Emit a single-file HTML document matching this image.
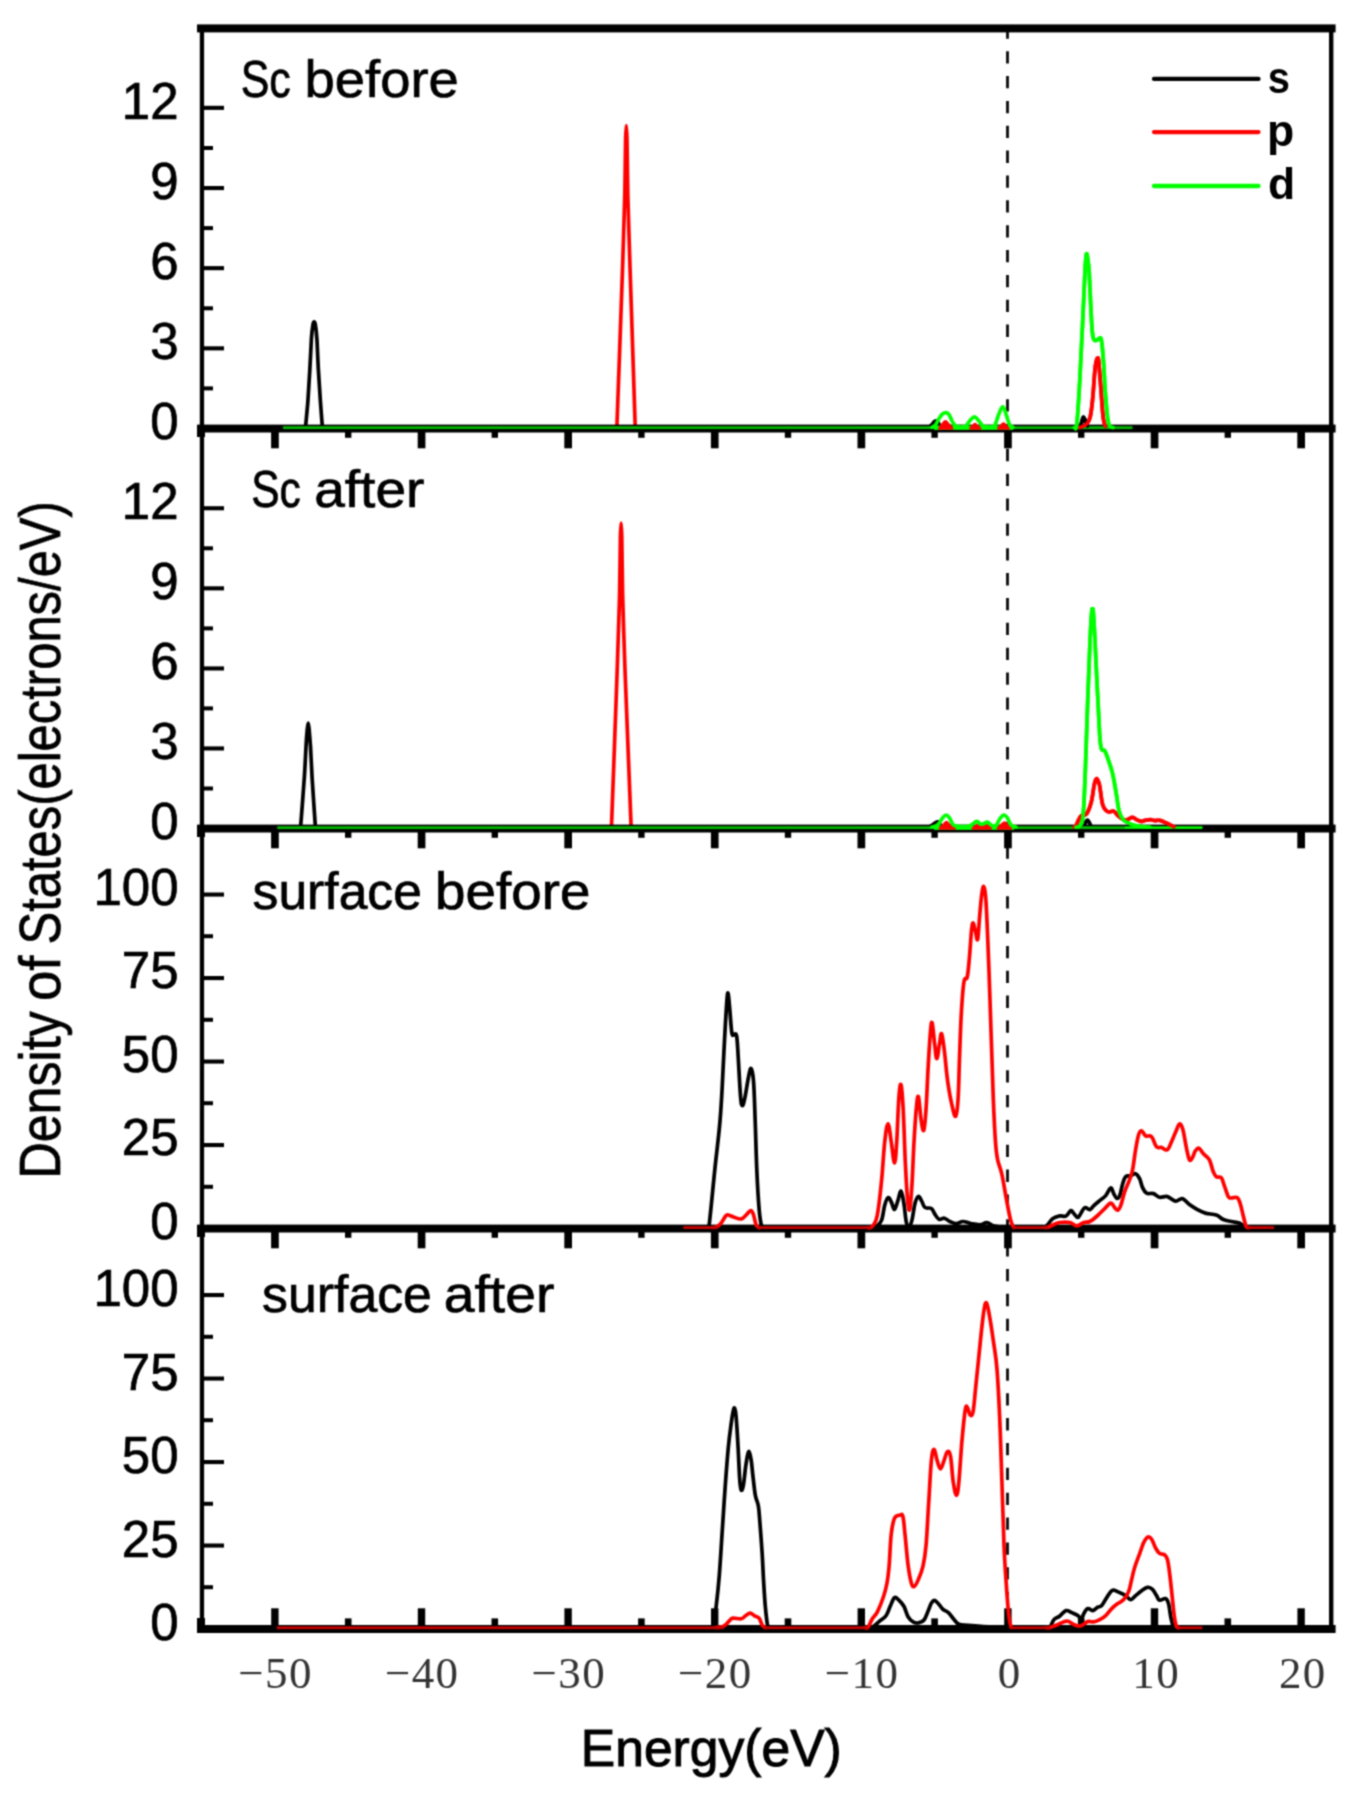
<!DOCTYPE html>
<html lang="en">
<head>
<meta charset="utf-8">
<title>Density of States</title>
<style>
html,body{margin:0;padding:0;background:#fff;}
body{width:1355px;height:1797px;position:relative;overflow:hidden;font-family:"Liberation Sans",sans-serif;}
</style>
</head>
<body>
<svg width="1355" height="1797" viewBox="0 0 1355 1797" style="display:block;position:absolute;left:0;top:0;">
<defs><filter id="soft" color-interpolation-filters="sRGB" x="0" y="0" width="1355" height="1797" filterUnits="userSpaceOnUse"><feConvolveMatrix order="3" kernelMatrix="0.0484 0.1232 0.0484 0.1232 0.3136 0.1232 0.0484 0.1232 0.0484" divisor="1" edgeMode="duplicate" preserveAlpha="true"/></filter></defs>
<rect x="0" y="0" width="1355" height="1797" fill="#fff"/>
<g filter="url(#soft)">
<rect x="0" y="0" width="1355" height="1797" fill="#fff"/>
<line x1="1007.5" y1="26.35" x2="1007.5" y2="1626" stroke="#111" stroke-width="2.9" stroke-dasharray="12.3 12.553"/>
<path d="M305.6 426.5C305.8 424.0 307.5 406.8 307.9 401.2C308.3 395.6 309.4 376.3 309.8 370.1C310.2 363.9 311.1 343.5 311.4 338.9C311.7 334.3 312.7 326.1 313.0 324.4C313.3 322.7 313.9 321.8 314.1 321.8C314.3 321.8 315.0 322.7 315.3 324.4C315.6 326.1 316.6 334.3 316.9 338.9C317.2 343.5 318.0 363.9 318.4 370.1C318.8 376.3 320.0 395.6 320.4 401.2C320.8 406.8 322.1 424.0 322.3 426.5" fill="none" stroke="#000" stroke-width="3.7" stroke-linejoin="round" stroke-linecap="round"/>
<path d="M929.5 427.0C930.0 426.5 931.1 425.5 932.0 424.5C932.9 423.5 933.6 422.1 934.5 421.5C935.4 420.9 936.2 420.5 937.0 421.0C937.8 421.5 938.6 423.4 939.0 424.0" fill="none" stroke="#000" stroke-width="3.7" stroke-linejoin="round" stroke-linecap="round"/>
<path d="M1080.5 427.0C1080.8 425.7 1081.8 421.8 1082.3 420.0C1082.8 418.2 1083.0 417.0 1083.5 417.0C1084.0 417.0 1084.3 418.4 1085.0 420.0C1085.7 421.6 1087.0 424.9 1087.5 426.0" fill="none" stroke="#000" stroke-width="3.7" stroke-linejoin="round" stroke-linecap="round"/>
<path d="M616.9 426.5C617.3 416.1 622.0 285.5 622.5 270.0C623.0 254.5 624.6 203.2 624.8 194.5C625.0 185.8 625.5 144.6 625.6 140.0C625.7 135.4 626.2 125.6 626.3 125.6C626.4 125.6 626.9 135.4 627.0 140.0C627.1 144.6 627.6 185.8 627.8 194.5C628.0 203.2 629.6 254.5 630.1 270.0C630.6 285.5 634.9 416.1 635.2 426.5" fill="none" stroke="#ff0000" stroke-width="3.7" stroke-linejoin="round" stroke-linecap="round"/>
<path d="M1079.7 427.6C1081.0 426.9 1084.8 425.9 1086.7 424.0C1088.6 422.1 1089.1 421.5 1090.2 417.0C1091.3 412.5 1091.7 408.0 1092.6 399.4C1093.5 390.8 1094.2 377.3 1094.9 370.2C1095.6 363.1 1095.9 362.9 1096.4 360.7C1096.9 358.5 1097.1 358.3 1097.5 358.4C1097.9 358.5 1098.1 356.1 1098.7 361.5C1099.3 366.9 1100.0 377.5 1100.8 387.7C1101.6 397.9 1102.3 409.9 1103.1 417.0C1103.9 424.1 1105.0 424.8 1105.4 426.5" fill="none" stroke="#ff0000" stroke-width="3.7" stroke-linejoin="round" stroke-linecap="round"/>
<path d="M1074.5 427.5C1074.9 426.9 1075.8 432.7 1076.8 424.3C1077.8 415.9 1078.6 400.4 1079.7 381.9C1080.8 363.4 1081.6 343.9 1082.6 323.5C1083.6 303.1 1084.4 283.1 1085.0 270.9C1085.6 258.7 1085.7 260.2 1086.0 257.0C1086.3 253.8 1086.4 253.6 1086.7 253.6C1087.0 253.6 1087.1 253.8 1087.5 257.0C1087.9 260.2 1088.5 261.9 1089.1 270.9C1089.7 279.9 1090.2 294.8 1090.8 306.0C1091.4 317.2 1091.7 325.6 1092.3 331.8C1092.9 338.0 1093.1 338.3 1094.0 339.8C1094.9 341.3 1096.3 340.3 1097.3 340.0C1098.3 339.7 1098.8 337.9 1099.6 338.1C1100.4 338.3 1100.8 336.4 1101.6 341.2C1102.4 346.0 1103.0 354.8 1103.7 364.4C1104.4 374.0 1104.6 383.5 1105.4 393.6C1106.2 403.7 1106.9 413.3 1107.8 419.3C1108.7 425.3 1109.1 425.0 1110.1 426.5C1111.1 428.0 1112.5 427.3 1113.0 427.5" fill="none" stroke="#00ff00" stroke-width="3.7" stroke-linejoin="round" stroke-linecap="round"/>
<path d="M300.6 827.0C300.9 822.9 303.9 784.6 304.3 777.9C304.8 771.2 305.8 750.8 306.0 746.7C306.2 742.6 307.1 731.0 307.3 729.0C307.5 727.0 308.1 723.2 308.2 723.2C308.3 723.2 308.9 727.0 309.1 729.0C309.3 731.0 310.2 742.6 310.5 746.7C310.8 750.8 311.7 771.2 312.1 777.9C312.5 784.6 315.1 822.9 315.4 827.0" fill="none" stroke="#000" stroke-width="3.7" stroke-linejoin="round" stroke-linecap="round"/>
<path d="M929.5 827.0C930.0 826.7 931.0 826.0 932.0 825.3C933.0 824.6 933.9 823.6 935.0 823.0C936.1 822.4 937.1 821.6 938.0 821.8C938.9 822.0 939.6 823.6 940.0 824.0" fill="none" stroke="#000" stroke-width="3.7" stroke-linejoin="round" stroke-linecap="round"/>
<path d="M1084.0 827.0C1084.4 826.0 1085.4 822.8 1086.0 821.5C1086.6 820.2 1087.0 819.9 1087.5 820.0C1088.0 820.1 1088.3 820.7 1089.0 822.0C1089.7 823.3 1091.0 826.1 1091.5 827.0" fill="none" stroke="#000" stroke-width="3.7" stroke-linejoin="round" stroke-linecap="round"/>
<path d="M611.5 826.5C611.9 816.1 616.7 685.5 617.2 670.0C617.7 654.5 619.4 602.9 619.6 594.0C619.8 585.1 620.3 541.7 620.4 537.0C620.5 532.3 621.0 523.0 621.1 523.0C621.2 523.0 621.7 532.3 621.8 537.0C621.9 541.7 622.4 585.1 622.6 594.0C622.8 602.9 624.4 654.5 625.0 670.0C625.6 685.5 630.7 816.1 631.1 826.5" fill="none" stroke="#ff0000" stroke-width="3.7" stroke-linejoin="round" stroke-linecap="round"/>
<path d="M1074.0 827.0C1074.4 826.7 1074.8 827.6 1076.0 825.6C1077.2 823.6 1078.8 818.4 1080.7 816.2C1082.6 814.0 1084.7 816.4 1086.6 813.8C1088.5 811.2 1089.9 807.2 1091.3 802.0C1092.7 796.8 1093.3 789.5 1094.1 785.5C1094.9 781.5 1095.1 781.3 1095.6 780.0C1096.1 778.7 1096.3 778.5 1096.7 778.6C1097.1 778.7 1097.4 779.1 1097.9 780.4C1098.4 781.7 1098.7 781.1 1099.6 785.5C1100.5 789.9 1101.3 799.7 1102.6 804.4C1103.9 809.1 1105.3 809.6 1106.7 811.0C1108.1 812.4 1108.7 811.8 1110.0 811.8C1111.3 811.8 1112.1 810.4 1113.7 811.2C1115.3 812.0 1116.9 814.8 1118.5 816.2C1120.1 817.6 1121.1 818.4 1122.6 819.0C1124.1 819.6 1124.9 820.0 1126.7 819.7C1128.5 819.4 1130.8 817.4 1132.6 817.4C1134.4 817.4 1135.0 818.9 1136.5 819.6C1138.0 820.3 1139.3 821.3 1140.9 821.4C1142.5 821.5 1143.3 820.7 1145.0 820.4C1146.7 820.1 1148.6 819.7 1150.4 819.7C1152.2 819.7 1153.3 820.5 1155.0 820.6C1156.7 820.7 1157.6 819.9 1159.8 820.4C1162.0 820.9 1164.3 822.1 1166.9 823.3C1169.5 824.5 1172.7 826.2 1174.0 826.8" fill="none" stroke="#ff0000" stroke-width="3.7" stroke-linejoin="round" stroke-linecap="round"/>
<path d="M1076.0 827.2C1076.6 827.0 1078.2 828.0 1079.5 826.0C1080.8 824.0 1081.9 826.7 1083.0 816.2C1084.1 805.8 1084.5 790.7 1085.4 769.0C1086.3 747.3 1086.9 721.9 1087.8 698.1C1088.7 674.3 1089.4 654.6 1090.1 639.0C1090.8 623.4 1091.2 618.5 1091.6 613.0C1092.0 607.5 1092.2 609.0 1092.5 609.0C1092.8 609.0 1093.0 607.5 1093.4 613.0C1093.8 618.5 1094.2 625.6 1094.9 639.0C1095.6 652.4 1096.3 669.0 1097.2 686.3C1098.1 703.6 1098.9 722.2 1099.6 733.5C1100.3 744.8 1100.6 744.8 1101.2 747.9C1101.8 751.0 1102.3 749.6 1103.0 750.2C1103.7 750.8 1103.9 749.1 1105.0 751.2C1106.1 753.3 1107.6 757.8 1109.0 761.9C1110.4 766.0 1111.3 768.1 1112.6 773.7C1113.9 779.3 1114.9 785.7 1116.1 792.6C1117.3 799.5 1117.9 806.5 1119.2 811.5C1120.5 816.5 1120.9 817.3 1123.2 819.7C1125.5 822.1 1128.3 823.1 1131.5 824.4C1134.7 825.7 1137.5 826.1 1140.9 826.6C1144.3 827.1 1148.3 827.1 1150.0 827.2" fill="none" stroke="#00ff00" stroke-width="3.7" stroke-linejoin="round" stroke-linecap="round"/>
<path d="M707.5 1227.0C707.8 1226.5 707.9 1235.0 709.2 1224.5C710.5 1214.0 712.9 1188.0 714.8 1169.7C716.7 1151.4 718.4 1139.3 719.7 1124.5C721.0 1109.7 721.2 1104.4 722.1 1089.0C723.0 1073.6 723.6 1056.9 724.5 1040.6C725.4 1024.3 726.2 1008.9 726.9 1000.3C727.6 991.7 727.7 992.3 728.2 993.8C728.7 995.3 729.0 1001.3 729.7 1008.4C730.4 1015.5 731.0 1027.8 731.8 1032.6C732.6 1037.4 733.1 1034.2 734.0 1034.8C734.9 1035.4 735.8 1031.8 736.6 1035.8C737.4 1039.8 737.5 1045.6 738.2 1056.8C738.9 1068.0 739.8 1088.2 740.6 1097.1C741.4 1106.0 741.5 1105.2 742.3 1105.5C743.1 1105.8 743.5 1104.1 744.7 1098.7C745.9 1093.3 747.5 1081.6 748.7 1076.1C749.9 1070.6 750.2 1067.7 751.1 1068.6C752.0 1069.5 752.7 1071.3 753.5 1081.0C754.3 1090.7 754.6 1105.0 755.2 1121.3C755.8 1137.6 756.1 1153.4 756.8 1169.7C757.5 1186.0 758.3 1199.7 759.2 1210.0C760.1 1220.3 760.7 1222.9 761.6 1226.1C762.5 1229.3 763.6 1227.1 764.0 1227.3" fill="none" stroke="#000" stroke-width="3.7" stroke-linejoin="round" stroke-linecap="round"/>
<path d="M873.0 1227.3C873.5 1227.2 874.4 1228.2 876.0 1226.9C877.6 1225.6 879.9 1224.4 881.5 1220.4C883.1 1216.4 883.5 1209.4 884.7 1205.2C885.9 1201.0 886.8 1198.2 888.0 1197.6C889.2 1197.0 890.1 1199.8 891.3 1202.0C892.5 1204.2 893.3 1209.7 894.5 1209.5C895.7 1209.3 896.6 1204.3 897.8 1200.9C899.0 1197.5 899.9 1190.7 901.0 1191.1C902.1 1191.5 902.8 1197.2 903.8 1203.0C904.8 1208.8 905.4 1218.2 906.4 1222.6C907.4 1227.0 908.0 1227.3 909.0 1226.9C910.0 1226.5 910.8 1224.8 911.9 1220.4C913.0 1216.0 913.9 1207.4 915.1 1203.0C916.3 1198.6 917.2 1196.9 918.4 1196.5C919.6 1196.1 920.4 1198.9 921.6 1200.9C922.8 1202.9 923.1 1206.0 924.9 1207.4C926.7 1208.8 929.6 1207.3 931.4 1208.5C933.2 1209.7 933.3 1211.9 934.7 1213.9C936.1 1215.9 937.2 1218.5 939.0 1219.3C940.8 1220.1 942.4 1217.8 944.4 1218.2C946.4 1218.6 947.7 1220.5 949.9 1221.5C952.1 1222.5 954.0 1223.7 956.4 1223.7C958.8 1223.7 960.1 1221.5 962.9 1221.5C965.7 1221.5 968.4 1223.1 971.6 1223.7C974.8 1224.3 977.5 1224.9 980.3 1224.7C983.1 1224.5 984.4 1222.4 986.8 1222.6C989.2 1222.8 990.5 1224.9 993.3 1225.8C996.1 1226.7 1000.4 1227.1 1002.0 1227.4" fill="none" stroke="#000" stroke-width="3.7" stroke-linejoin="round" stroke-linecap="round"/>
<path d="M1045.0 1227.3C1045.5 1226.8 1046.5 1226.1 1047.9 1224.5C1049.3 1222.9 1050.7 1220.1 1052.9 1218.5C1055.1 1216.9 1057.5 1216.3 1059.9 1215.9C1062.3 1215.5 1063.9 1217.1 1065.9 1216.1C1067.9 1215.1 1069.4 1211.1 1070.8 1210.6C1072.2 1210.1 1072.5 1212.2 1073.8 1213.5C1075.1 1214.8 1076.5 1217.5 1077.8 1217.5C1079.1 1217.5 1079.5 1215.3 1080.8 1213.5C1082.1 1211.7 1083.1 1208.3 1084.8 1207.6C1086.5 1206.9 1088.1 1210.0 1089.8 1209.6C1091.5 1209.2 1092.0 1207.2 1093.8 1205.6C1095.6 1203.9 1097.5 1202.4 1099.7 1200.6C1101.9 1198.8 1103.7 1197.9 1105.7 1195.6C1107.7 1193.3 1109.2 1188.4 1110.7 1188.0C1112.2 1187.6 1112.6 1191.7 1113.7 1193.6C1114.8 1195.5 1115.6 1197.8 1116.7 1198.2C1117.8 1198.6 1118.6 1198.3 1119.7 1195.6C1120.8 1192.9 1121.6 1187.2 1122.7 1183.7C1123.8 1180.2 1124.2 1178.2 1125.6 1176.7C1127.0 1175.2 1128.8 1176.2 1130.6 1175.7C1132.4 1175.2 1133.9 1173.2 1135.6 1173.7C1137.2 1174.2 1138.3 1176.2 1139.6 1178.7C1140.9 1181.2 1141.3 1184.9 1142.6 1187.6C1143.9 1190.3 1144.6 1192.1 1146.6 1193.2C1148.6 1194.3 1151.1 1192.9 1153.5 1193.6C1155.9 1194.3 1156.9 1196.7 1159.5 1197.2C1162.1 1197.8 1164.6 1195.9 1167.5 1196.6C1170.4 1197.3 1172.8 1200.8 1175.5 1201.2C1178.2 1201.6 1179.9 1198.0 1182.4 1198.6C1184.9 1199.2 1186.7 1202.6 1189.4 1204.6C1192.2 1206.6 1194.5 1208.0 1197.4 1209.6C1200.3 1211.2 1201.9 1212.1 1205.4 1213.1C1208.9 1214.1 1213.0 1213.9 1216.3 1215.1C1219.6 1216.3 1220.5 1218.3 1223.3 1219.5C1226.0 1220.7 1228.4 1220.8 1231.3 1221.5C1234.2 1222.2 1236.8 1222.2 1239.2 1223.1C1241.6 1224.0 1242.8 1225.7 1244.2 1226.5C1245.6 1227.3 1246.5 1227.2 1247.0 1227.3" fill="none" stroke="#000" stroke-width="3.7" stroke-linejoin="round" stroke-linecap="round"/>
<path d="M711.5 1627.3C711.8 1627.1 712.4 1630.4 713.3 1626.4C714.2 1622.4 715.2 1614.7 716.3 1605.3C717.4 1595.9 718.2 1589.1 719.3 1575.3C720.4 1561.5 721.2 1546.7 722.3 1530.2C723.4 1513.7 724.2 1500.3 725.3 1485.2C726.4 1470.1 727.2 1459.2 728.3 1447.6C729.4 1436.0 730.5 1428.9 731.4 1422.1C732.3 1415.3 732.7 1413.1 733.3 1410.6C733.9 1408.1 734.2 1407.1 734.7 1408.4C735.2 1409.7 735.6 1410.4 736.2 1417.6C736.8 1424.8 737.5 1436.6 738.1 1447.6C738.7 1458.6 739.1 1469.9 739.6 1477.6C740.1 1485.3 740.4 1488.4 741.1 1489.8C741.8 1491.2 742.6 1489.4 743.4 1485.2C744.2 1481.0 744.8 1472.9 745.6 1467.1C746.4 1461.3 747.2 1456.3 747.9 1453.6C748.6 1450.9 748.8 1451.1 749.4 1452.5C750.0 1453.9 750.6 1456.5 751.3 1461.1C752.0 1465.7 752.3 1471.3 753.1 1477.6C753.9 1483.9 754.4 1490.5 755.4 1495.7C756.4 1500.9 757.6 1501.2 758.4 1506.2C759.2 1511.2 759.2 1514.2 759.9 1522.7C760.6 1531.2 761.4 1541.7 762.1 1552.7C762.8 1563.7 763.1 1573.2 763.7 1582.8C764.3 1592.4 764.6 1598.1 765.2 1605.3C765.8 1612.5 766.5 1618.0 767.0 1621.9C767.5 1625.8 767.7 1625.4 768.2 1626.4C768.8 1627.4 769.7 1627.1 770.0 1627.3" fill="none" stroke="#000" stroke-width="3.7" stroke-linejoin="round" stroke-linecap="round"/>
<path d="M869.0 1627.5C869.6 1627.5 870.3 1628.6 872.2 1627.4C874.1 1626.2 877.1 1623.2 879.6 1621.1C882.1 1619.0 884.1 1618.5 886.0 1615.8C887.9 1613.1 888.7 1609.6 890.2 1606.3C891.7 1603.0 892.9 1599.0 894.4 1597.8C895.9 1596.6 896.9 1598.3 898.6 1599.9C900.3 1601.5 902.1 1603.2 903.9 1606.3C905.7 1609.4 906.4 1614.0 908.2 1616.9C910.0 1619.8 911.6 1621.1 913.5 1622.2C915.4 1623.3 916.8 1623.2 918.7 1622.8C920.6 1622.4 922.2 1622.3 924.0 1620.0C925.8 1617.7 926.9 1613.6 928.3 1610.5C929.7 1607.4 930.2 1605.0 931.4 1603.1C932.6 1601.2 933.2 1600.2 934.6 1600.4C936.0 1600.6 937.2 1602.5 938.8 1604.2C940.4 1605.9 941.3 1608.0 943.1 1609.5C944.9 1611.0 946.5 1610.9 948.4 1612.6C950.3 1614.3 951.7 1616.9 953.6 1619.0C955.5 1621.1 956.2 1623.1 958.9 1624.3C961.6 1625.5 964.3 1624.9 968.4 1625.3C972.5 1625.7 975.7 1626.0 981.1 1626.4C986.5 1626.8 995.0 1627.2 998.1 1627.4" fill="none" stroke="#000" stroke-width="3.7" stroke-linejoin="round" stroke-linecap="round"/>
<path d="M1047.0 1627.6C1047.5 1627.6 1048.6 1629.0 1049.9 1627.5C1051.2 1626.0 1052.1 1621.7 1053.9 1619.6C1055.7 1617.5 1057.7 1617.7 1059.9 1616.0C1062.1 1614.3 1063.7 1611.2 1065.9 1610.6C1068.1 1610.0 1069.4 1611.6 1071.8 1612.6C1074.2 1613.6 1077.1 1614.5 1078.8 1616.2C1080.5 1617.9 1079.9 1622.1 1080.8 1621.6C1081.7 1621.1 1082.5 1616.0 1083.8 1613.6C1085.1 1611.2 1086.1 1609.1 1087.8 1608.6C1089.5 1608.0 1091.0 1610.9 1092.8 1610.6C1094.6 1610.3 1096.1 1608.1 1097.7 1607.2C1099.3 1606.3 1100.0 1607.4 1101.7 1605.6C1103.4 1603.8 1105.0 1600.1 1106.7 1597.6C1108.4 1595.1 1109.4 1593.1 1110.7 1591.7C1112.0 1590.3 1112.2 1590.0 1113.7 1590.1C1115.2 1590.2 1116.5 1591.1 1118.7 1592.1C1120.9 1593.1 1123.4 1594.2 1125.6 1595.6C1127.8 1597.0 1128.8 1599.6 1130.6 1599.6C1132.4 1599.6 1133.6 1597.2 1135.6 1595.6C1137.6 1594.0 1139.4 1592.2 1141.6 1590.7C1143.8 1589.2 1145.6 1587.6 1147.6 1587.3C1149.6 1587.0 1150.9 1587.8 1152.5 1589.3C1154.1 1590.8 1155.2 1593.6 1156.5 1595.6C1157.8 1597.6 1157.8 1599.7 1159.5 1600.2C1161.2 1600.8 1163.8 1598.0 1165.5 1598.6C1167.2 1599.2 1167.6 1600.5 1168.5 1603.6C1169.4 1606.7 1169.8 1611.8 1170.5 1615.6C1171.2 1619.4 1172.0 1622.3 1172.5 1624.5C1173.0 1626.7 1173.3 1627.0 1173.5 1627.5" fill="none" stroke="#000" stroke-width="3.7" stroke-linejoin="round" stroke-linecap="round"/>
<g fill="#000">
<rect x="199.8" y="26" width="4.3" height="1604"/>
<rect x="1329.0" y="26" width="4.4" height="1604"/>
<rect x="197" y="24.4" width="1138.6" height="8.0"/>
<rect x="197" y="424.6" width="1138.6" height="7.9"/>
<rect x="197" y="425.4" width="8" height="11.6"/>
<rect x="197" y="824.6" width="1138.6" height="7.9"/>
<rect x="197" y="825.4" width="8" height="11.6"/>
<rect x="197" y="1224.6" width="1138.6" height="7.9"/>
<rect x="197" y="1225.4" width="8" height="11.6"/>
<rect x="197" y="1625.0" width="1138.6" height="8.0"/>
<rect x="197" y="1618" width="8" height="14"/>
</g>
<g fill="#000">
<rect x="271.1" y="428" width="7.7" height="20.3"/>
<rect x="345.0" y="428" width="6.4" height="9.8"/>
<rect x="417.7" y="428" width="7.7" height="20.3"/>
<rect x="491.6" y="428" width="6.4" height="9.8"/>
<rect x="564.3" y="428" width="7.7" height="20.3"/>
<rect x="638.2" y="428" width="6.4" height="9.8"/>
<rect x="710.9" y="428" width="7.7" height="20.3"/>
<rect x="784.8" y="428" width="6.4" height="9.8"/>
<rect x="857.5" y="428" width="7.7" height="20.3"/>
<rect x="931.4" y="428" width="6.4" height="9.8"/>
<rect x="1004.1" y="428" width="7.7" height="20.3"/>
<rect x="1078.0" y="428" width="6.4" height="9.8"/>
<rect x="1150.7" y="428" width="7.7" height="20.3"/>
<rect x="1224.6" y="428" width="6.4" height="9.8"/>
<rect x="1297.3" y="428" width="7.7" height="20.3"/>
<rect x="271.1" y="828" width="7.7" height="20.3"/>
<rect x="345.0" y="828" width="6.4" height="9.8"/>
<rect x="417.7" y="828" width="7.7" height="20.3"/>
<rect x="491.6" y="828" width="6.4" height="9.8"/>
<rect x="564.3" y="828" width="7.7" height="20.3"/>
<rect x="638.2" y="828" width="6.4" height="9.8"/>
<rect x="710.9" y="828" width="7.7" height="20.3"/>
<rect x="784.8" y="828" width="6.4" height="9.8"/>
<rect x="857.5" y="828" width="7.7" height="20.3"/>
<rect x="931.4" y="828" width="6.4" height="9.8"/>
<rect x="1004.1" y="828" width="7.7" height="20.3"/>
<rect x="1078.0" y="828" width="6.4" height="9.8"/>
<rect x="1150.7" y="828" width="7.7" height="20.3"/>
<rect x="1224.6" y="828" width="6.4" height="9.8"/>
<rect x="1297.3" y="828" width="7.7" height="20.3"/>
<rect x="271.1" y="1228" width="7.7" height="20.3"/>
<rect x="345.0" y="1228" width="6.4" height="9.8"/>
<rect x="417.7" y="1228" width="7.7" height="20.3"/>
<rect x="491.6" y="1228" width="6.4" height="9.8"/>
<rect x="564.3" y="1228" width="7.7" height="20.3"/>
<rect x="638.2" y="1228" width="6.4" height="9.8"/>
<rect x="710.9" y="1228" width="7.7" height="20.3"/>
<rect x="784.8" y="1228" width="6.4" height="9.8"/>
<rect x="857.5" y="1228" width="7.7" height="20.3"/>
<rect x="931.4" y="1228" width="6.4" height="9.8"/>
<rect x="1004.1" y="1228" width="7.7" height="20.3"/>
<rect x="1078.0" y="1228" width="6.4" height="9.8"/>
<rect x="1150.7" y="1228" width="7.7" height="20.3"/>
<rect x="1224.6" y="1228" width="6.4" height="9.8"/>
<rect x="1297.3" y="1228" width="7.7" height="20.3"/>
<rect x="271.2" y="1608.3" width="7.4" height="19"/>
<rect x="344.9" y="1618.4" width="6.6" height="9"/>
<rect x="417.8" y="1608.3" width="7.4" height="19"/>
<rect x="491.5" y="1618.4" width="6.6" height="9"/>
<rect x="564.4" y="1608.3" width="7.4" height="19"/>
<rect x="638.1" y="1618.4" width="6.6" height="9"/>
<rect x="711.0" y="1608.3" width="7.4" height="19"/>
<rect x="784.7" y="1618.4" width="6.6" height="9"/>
<rect x="857.6" y="1608.3" width="7.4" height="19"/>
<rect x="931.3" y="1618.4" width="6.6" height="9"/>
<rect x="1004.2" y="1608.3" width="7.4" height="19"/>
<rect x="1077.9" y="1618.4" width="6.6" height="9"/>
<rect x="1150.8" y="1608.3" width="7.4" height="19"/>
<rect x="1224.5" y="1618.4" width="6.6" height="9"/>
<rect x="1297.4" y="1608.3" width="7.4" height="19"/>
</g>
<g fill="#000">
<rect x="203" y="346.3" width="21.0" height="4.1"/>
<rect x="203" y="266.1" width="21.0" height="4.1"/>
<rect x="203" y="186.0" width="21.0" height="4.1"/>
<rect x="203" y="105.8" width="21.0" height="4.1"/>
<rect x="203" y="386.4" width="10" height="4"/>
<rect x="203" y="306.3" width="10" height="4"/>
<rect x="203" y="226.1" width="10" height="4"/>
<rect x="203" y="146.0" width="10" height="4"/>
<rect x="203" y="746.4" width="21.0" height="4.1"/>
<rect x="203" y="666.4" width="21.0" height="4.1"/>
<rect x="203" y="586.3" width="21.0" height="4.1"/>
<rect x="203" y="506.2" width="21.0" height="4.1"/>
<rect x="203" y="786.5" width="10" height="4"/>
<rect x="203" y="706.4" width="10" height="4"/>
<rect x="203" y="626.4" width="10" height="4"/>
<rect x="203" y="546.3" width="10" height="4"/>
<rect x="203" y="1143.0" width="21.0" height="4.1"/>
<rect x="203" y="1059.5" width="21.0" height="4.1"/>
<rect x="203" y="976.0" width="21.0" height="4.1"/>
<rect x="203" y="892.5" width="21.0" height="4.1"/>
<rect x="203" y="1184.8" width="10" height="4"/>
<rect x="203" y="1101.2" width="10" height="4"/>
<rect x="203" y="1017.8" width="10" height="4"/>
<rect x="203" y="934.2" width="10" height="4"/>
<rect x="203" y="1543.5" width="21.0" height="4.1"/>
<rect x="203" y="1460.0" width="21.0" height="4.1"/>
<rect x="203" y="1376.5" width="21.0" height="4.1"/>
<rect x="203" y="1293.0" width="21.0" height="4.1"/>
<rect x="203" y="1585.2" width="10" height="4"/>
<rect x="203" y="1501.8" width="10" height="4"/>
<rect x="203" y="1418.2" width="10" height="4"/>
<rect x="203" y="1334.8" width="10" height="4"/>
</g>
<path d="M712.0 1227.5C712.8 1227.4 714.8 1227.8 716.5 1227.0C718.2 1226.2 719.7 1224.8 721.3 1222.9C722.9 1221.0 724.1 1218.0 725.3 1216.5C726.5 1215.0 726.1 1214.7 727.7 1214.8C729.3 1214.9 731.7 1216.5 734.2 1217.3C736.7 1218.1 739.3 1219.4 741.5 1218.9C743.7 1218.4 744.6 1216.3 746.3 1214.8C748.0 1213.3 749.5 1210.5 750.8 1210.5C752.1 1210.5 752.5 1212.2 753.5 1214.8C754.5 1217.4 755.0 1222.1 756.0 1224.5C757.0 1226.9 758.6 1227.1 759.2 1227.7" fill="none" stroke="#ff0000" stroke-width="3.7" stroke-linejoin="round" stroke-linecap="round"/>
<path d="M868.0 1227.5C868.7 1227.4 870.0 1229.0 871.7 1226.9C873.4 1224.8 875.3 1224.5 877.1 1216.1C878.9 1207.7 880.1 1194.8 881.5 1181.3C882.9 1167.8 883.5 1152.7 884.7 1142.2C885.9 1131.7 886.8 1123.8 888.0 1123.8C889.2 1123.8 890.1 1135.0 891.3 1142.2C892.5 1149.4 893.5 1162.9 894.5 1162.9C895.5 1162.9 895.9 1154.0 896.7 1142.2C897.5 1130.4 898.0 1109.3 898.8 1098.8C899.6 1088.3 900.2 1082.7 901.0 1084.7C901.8 1086.7 902.4 1095.2 903.2 1109.7C904.0 1124.2 904.6 1147.7 905.4 1164.0C906.2 1180.3 906.7 1190.4 907.5 1198.7C908.3 1207.0 908.9 1211.9 909.7 1209.5C910.5 1207.1 911.1 1198.0 911.9 1185.7C912.7 1173.4 913.2 1156.1 914.0 1142.2C914.8 1128.3 915.4 1118.1 916.2 1109.7C917.0 1101.3 917.5 1094.6 918.4 1096.6C919.3 1098.6 920.2 1114.3 921.2 1120.5C922.2 1126.7 922.9 1132.3 923.8 1130.3C924.7 1128.3 925.2 1121.4 926.0 1109.7C926.8 1098.0 927.4 1080.2 928.2 1066.3C929.0 1052.4 929.6 1041.7 930.3 1033.7C931.0 1025.7 931.3 1020.8 932.1 1022.8C932.9 1024.8 933.8 1037.9 934.7 1044.5C935.6 1051.1 935.9 1058.7 936.8 1058.7C937.7 1058.7 938.5 1049.1 939.4 1044.5C940.3 1039.9 940.7 1032.5 941.6 1033.7C942.5 1034.9 943.3 1042.3 944.4 1051.1C945.5 1059.9 946.3 1071.6 947.7 1081.5C949.1 1091.4 950.5 1098.9 952.0 1105.3C953.5 1111.7 954.6 1117.4 955.7 1116.2C956.8 1115.0 957.4 1109.9 958.1 1098.8C958.8 1087.7 959.0 1071.3 959.6 1055.4C960.2 1039.5 960.6 1025.5 961.4 1012.0C962.2 998.5 962.9 988.0 964.0 981.6C965.1 975.2 966.2 981.6 967.2 977.2C968.2 972.8 968.6 966.4 969.4 957.7C970.2 949.0 970.9 935.9 971.6 929.5C972.3 923.1 972.6 922.6 973.3 923.0C974.0 923.4 974.7 928.6 975.5 931.6C976.3 934.6 976.9 942.4 977.7 939.2C978.5 936.0 979.0 922.8 979.8 914.3C980.6 905.8 981.2 897.6 982.0 892.6C982.8 887.6 983.2 885.1 984.0 887.1C984.8 889.1 985.2 888.5 986.1 903.4C987.0 918.3 988.0 944.7 988.9 968.6C989.8 992.5 990.3 1009.8 991.1 1033.7C991.9 1057.6 992.5 1078.9 993.3 1098.8C994.1 1118.7 994.7 1131.1 995.5 1142.2C996.3 1153.3 996.4 1153.6 997.6 1159.6C998.8 1165.6 1000.4 1167.6 1002.0 1174.8C1003.6 1182.0 1004.7 1190.3 1006.3 1198.7C1007.9 1207.1 1009.3 1215.1 1010.7 1220.4C1012.1 1225.7 1013.3 1226.2 1013.9 1227.5" fill="none" stroke="#ff0000" stroke-width="3.7" stroke-linejoin="round" stroke-linecap="round"/>
<path d="M1044.0 1227.5C1044.7 1227.4 1046.1 1227.8 1047.9 1227.2C1049.7 1226.7 1051.7 1225.4 1053.9 1224.5C1056.1 1223.6 1057.0 1222.9 1059.9 1222.5C1062.8 1222.1 1066.8 1221.9 1069.9 1222.5C1073.0 1223.1 1074.3 1225.9 1076.8 1225.9C1079.3 1225.9 1081.4 1223.3 1083.8 1222.5C1086.2 1221.7 1087.3 1222.8 1089.8 1221.5C1092.3 1220.2 1095.0 1217.9 1097.7 1215.5C1100.4 1213.1 1102.3 1210.9 1104.7 1208.6C1107.1 1206.3 1108.9 1203.4 1110.7 1203.2C1112.5 1203.0 1113.4 1206.3 1114.7 1207.6C1116.0 1208.9 1116.6 1210.6 1117.7 1210.2C1118.8 1209.8 1119.4 1209.0 1120.7 1205.6C1122.0 1202.2 1123.1 1196.3 1124.7 1191.6C1126.3 1186.9 1128.2 1183.7 1129.6 1179.7C1131.0 1175.7 1131.5 1175.2 1132.6 1169.7C1133.7 1164.2 1134.5 1156.2 1135.6 1149.8C1136.7 1143.4 1137.5 1138.3 1138.6 1134.8C1139.7 1131.3 1140.3 1130.6 1141.6 1130.8C1142.9 1131.0 1143.8 1134.7 1145.6 1135.8C1147.4 1136.9 1149.6 1134.8 1151.6 1136.8C1153.6 1138.8 1154.7 1144.9 1156.5 1146.8C1158.3 1148.7 1159.6 1146.9 1161.5 1147.4C1163.4 1148.0 1165.3 1150.8 1167.1 1149.8C1168.9 1148.8 1169.8 1145.4 1171.5 1141.8C1173.2 1138.2 1175.0 1133.2 1176.5 1129.9C1178.0 1126.6 1178.6 1123.9 1179.8 1123.9C1181.0 1123.9 1181.8 1125.5 1183.0 1129.9C1184.2 1134.3 1185.2 1142.3 1186.4 1147.8C1187.6 1153.3 1188.3 1157.9 1189.4 1159.7C1190.5 1161.5 1191.3 1159.3 1192.4 1157.7C1193.5 1156.1 1194.2 1152.5 1195.4 1150.8C1196.6 1149.1 1197.5 1147.7 1199.0 1148.2C1200.5 1148.8 1201.5 1151.7 1203.4 1153.8C1205.3 1155.9 1207.5 1156.4 1209.3 1159.7C1211.1 1163.0 1212.0 1168.6 1213.3 1171.7C1214.6 1174.8 1214.8 1175.6 1216.3 1176.7C1217.8 1177.8 1219.8 1176.1 1221.3 1177.7C1222.8 1179.3 1223.0 1182.1 1224.3 1185.6C1225.6 1189.1 1227.0 1194.3 1228.3 1196.6C1229.6 1198.9 1229.7 1197.8 1231.3 1198.0C1232.9 1198.2 1235.6 1196.6 1237.2 1197.6C1238.8 1198.6 1239.1 1200.3 1240.2 1203.6C1241.3 1206.9 1242.1 1211.3 1243.2 1215.5C1244.3 1219.7 1245.1 1224.3 1246.2 1226.5C1247.3 1228.7 1248.5 1227.3 1249.0 1227.5" fill="none" stroke="#ff0000" stroke-width="3.7" stroke-linejoin="round" stroke-linecap="round"/>
<path d="M716.0 1627.5C716.8 1627.4 718.5 1627.4 720.1 1627.1C721.7 1626.8 723.0 1626.7 724.6 1625.6C726.2 1624.5 727.6 1622.5 729.1 1621.1C730.6 1619.7 730.7 1618.5 732.9 1618.1C735.1 1617.7 738.8 1619.2 741.1 1618.8C743.4 1618.4 744.0 1616.8 745.6 1615.8C747.2 1614.8 748.5 1613.1 750.1 1613.1C751.8 1613.1 753.0 1614.9 754.6 1615.8C756.2 1616.7 757.7 1616.4 759.1 1618.1C760.5 1619.8 761.0 1623.2 762.1 1624.9C763.2 1626.6 764.6 1627.1 765.2 1627.6" fill="none" stroke="#ff0000" stroke-width="3.7" stroke-linejoin="round" stroke-linecap="round"/>
<path d="M865.0 1627.5C865.5 1627.5 866.7 1629.0 868.0 1627.4C869.3 1625.8 870.5 1621.9 872.2 1619.0C873.9 1616.1 875.4 1615.9 877.5 1611.6C879.6 1607.3 882.1 1600.9 883.8 1595.7C885.5 1590.5 886.0 1588.4 887.0 1583.0C888.0 1577.6 888.3 1575.0 889.1 1566.1C889.9 1557.2 890.2 1543.1 891.2 1534.4C892.2 1525.7 892.8 1522.0 894.4 1518.5C896.0 1515.0 898.1 1515.7 899.7 1515.3C901.3 1514.9 901.9 1512.9 902.9 1516.4C903.9 1519.9 904.0 1525.3 905.0 1534.4C906.0 1543.5 907.0 1557.2 908.2 1566.1C909.4 1575.0 910.2 1579.2 911.3 1583.0C912.4 1586.8 912.9 1587.0 914.1 1586.6C915.3 1586.2 916.1 1584.7 917.7 1580.9C919.3 1577.1 921.5 1572.7 923.0 1566.1C924.5 1559.5 925.1 1556.5 926.1 1544.9C927.1 1533.3 927.7 1518.2 928.7 1502.7C929.7 1487.2 930.4 1470.2 931.4 1460.4C932.4 1450.6 933.2 1449.4 934.2 1449.4C935.2 1449.4 935.9 1456.8 937.1 1460.4C938.3 1464.0 939.2 1468.8 940.5 1468.8C941.8 1468.8 942.9 1463.5 944.1 1460.4C945.3 1457.3 946.1 1452.7 947.3 1451.9C948.5 1451.1 949.4 1450.7 950.5 1456.1C951.6 1461.5 952.1 1474.3 953.2 1481.5C954.3 1488.7 955.4 1495.3 956.4 1495.3C957.4 1495.3 957.9 1491.8 958.9 1481.5C959.9 1471.2 960.9 1452.4 962.1 1439.2C963.3 1426.0 964.3 1415.4 965.3 1409.6C966.3 1403.8 966.5 1406.5 967.4 1407.5C968.3 1408.5 969.1 1414.1 970.1 1414.9C971.1 1415.7 972.1 1416.9 973.1 1411.7C974.1 1406.5 974.5 1398.7 975.8 1386.3C977.1 1373.9 978.7 1357.6 980.1 1344.0C981.5 1330.4 982.5 1319.9 983.7 1312.3C984.9 1304.7 985.3 1302.0 986.4 1302.8C987.5 1303.6 988.2 1308.9 989.6 1316.5C991.0 1324.1 992.4 1334.3 993.8 1344.0C995.2 1353.7 995.9 1355.8 997.0 1369.4C998.1 1383.0 998.8 1397.5 999.7 1418.1C1000.6 1438.7 1001.1 1458.2 1001.9 1481.5C1002.7 1504.8 1003.2 1525.6 1004.0 1545.0C1004.8 1564.4 1005.6 1574.1 1006.5 1587.3C1007.4 1600.5 1008.1 1609.5 1009.0 1616.9C1009.9 1624.3 1010.8 1625.5 1011.2 1627.4" fill="none" stroke="#ff0000" stroke-width="3.7" stroke-linejoin="round" stroke-linecap="round"/>
<path d="M1046.0 1627.6C1046.7 1627.6 1047.7 1628.1 1049.9 1627.5C1052.1 1626.9 1054.8 1625.7 1057.9 1624.5C1061.0 1623.3 1064.0 1621.2 1066.9 1621.2C1069.8 1621.2 1071.3 1623.6 1073.8 1624.5C1076.3 1625.4 1078.2 1626.4 1080.8 1625.9C1083.4 1625.4 1085.4 1622.3 1087.8 1621.6C1090.2 1620.9 1091.6 1622.3 1093.8 1621.9C1096.0 1621.5 1097.5 1620.8 1099.7 1619.6C1101.9 1618.4 1103.5 1617.6 1105.7 1615.6C1107.9 1613.6 1109.5 1610.8 1111.7 1608.6C1113.9 1606.4 1115.5 1605.2 1117.7 1603.6C1119.9 1601.9 1121.7 1601.8 1123.7 1599.6C1125.7 1597.4 1127.2 1595.3 1128.6 1591.7C1130.0 1588.1 1130.5 1584.1 1131.6 1579.7C1132.7 1575.3 1133.1 1572.4 1134.6 1567.7C1136.1 1563.0 1137.9 1558.4 1139.6 1553.8C1141.2 1549.2 1142.3 1545.7 1143.6 1542.8C1144.9 1539.9 1145.6 1539.0 1146.6 1537.9C1147.6 1536.8 1148.0 1536.5 1149.0 1536.9C1150.0 1537.3 1150.8 1537.9 1152.0 1539.9C1153.2 1541.9 1154.1 1545.3 1155.5 1547.8C1156.9 1550.3 1157.8 1552.1 1159.5 1553.4C1161.2 1554.7 1163.0 1553.6 1164.5 1554.8C1166.0 1556.0 1166.5 1556.0 1167.5 1559.8C1168.5 1563.6 1169.0 1568.4 1169.9 1575.7C1170.8 1583.0 1171.7 1591.9 1172.5 1599.6C1173.3 1607.3 1173.8 1612.7 1174.5 1617.6C1175.2 1622.5 1175.7 1624.7 1176.5 1626.5C1177.3 1628.3 1178.5 1627.4 1179.0 1627.6" fill="none" stroke="#ff0000" stroke-width="3.7" stroke-linejoin="round" stroke-linecap="round"/>
<rect x="283" y="426.2" width="849.5" height="2.9" fill="#00b400"/>
<path d="M1080.5 427.0C1080.8 425.7 1081.8 421.8 1082.3 420.0C1082.8 418.2 1083.0 417.0 1083.5 417.0C1084.0 417.0 1084.3 418.4 1085.0 420.0C1085.7 421.6 1087.0 424.9 1087.5 426.0" fill="none" stroke="#000" stroke-width="3.7" stroke-linejoin="round" stroke-linecap="round"/>
<path d="M1079.7 427.6C1081.0 426.9 1084.8 425.9 1086.7 424.0C1088.6 422.1 1089.1 421.5 1090.2 417.0C1091.3 412.5 1091.7 408.0 1092.6 399.4C1093.5 390.8 1094.2 377.3 1094.9 370.2C1095.6 363.1 1095.9 362.9 1096.4 360.7C1096.9 358.5 1097.1 358.3 1097.5 358.4C1097.9 358.5 1098.1 356.1 1098.7 361.5C1099.3 366.9 1100.0 377.5 1100.8 387.7C1101.6 397.9 1102.3 409.9 1103.1 417.0C1103.9 424.1 1105.0 424.8 1105.4 426.5" fill="none" stroke="#ff0000" stroke-width="3.7" stroke-linejoin="round" stroke-linecap="round"/>
<path d="M1074.5 427.5C1074.9 426.9 1075.8 432.7 1076.8 424.3C1077.8 415.9 1078.6 400.4 1079.7 381.9C1080.8 363.4 1081.6 343.9 1082.6 323.5C1083.6 303.1 1084.4 283.1 1085.0 270.9C1085.6 258.7 1085.7 260.2 1086.0 257.0C1086.3 253.8 1086.4 253.6 1086.7 253.6C1087.0 253.6 1087.1 253.8 1087.5 257.0C1087.9 260.2 1088.5 261.9 1089.1 270.9C1089.7 279.9 1090.2 294.8 1090.8 306.0C1091.4 317.2 1091.7 325.6 1092.3 331.8C1092.9 338.0 1093.1 338.3 1094.0 339.8C1094.9 341.3 1096.3 340.3 1097.3 340.0C1098.3 339.7 1098.8 337.9 1099.6 338.1C1100.4 338.3 1100.8 336.4 1101.6 341.2C1102.4 346.0 1103.0 354.8 1103.7 364.4C1104.4 374.0 1104.6 383.5 1105.4 393.6C1106.2 403.7 1106.9 413.3 1107.8 419.3C1108.7 425.3 1109.1 425.0 1110.1 426.5C1111.1 428.0 1112.5 427.3 1113.0 427.5" fill="none" stroke="#00ff00" stroke-width="3.7" stroke-linejoin="round" stroke-linecap="round"/>
<rect x="277.3" y="826.2" width="848" height="2.9" fill="#00b400"/>
<rect x="1125" y="826.3" width="77.5" height="2.6" fill="#00ff00"/>
<path d="M1074.0 827.0C1074.4 826.7 1074.8 827.6 1076.0 825.6C1077.2 823.6 1078.8 818.4 1080.7 816.2C1082.6 814.0 1084.7 816.4 1086.6 813.8C1088.5 811.2 1089.9 807.2 1091.3 802.0C1092.7 796.8 1093.3 789.5 1094.1 785.5C1094.9 781.5 1095.1 781.3 1095.6 780.0C1096.1 778.7 1096.3 778.5 1096.7 778.6C1097.1 778.7 1097.4 779.1 1097.9 780.4C1098.4 781.7 1098.7 781.1 1099.6 785.5C1100.5 789.9 1101.3 799.7 1102.6 804.4C1103.9 809.1 1105.3 809.6 1106.7 811.0C1108.1 812.4 1108.7 811.8 1110.0 811.8C1111.3 811.8 1112.1 810.4 1113.7 811.2C1115.3 812.0 1116.9 814.8 1118.5 816.2C1120.1 817.6 1121.1 818.4 1122.6 819.0C1124.1 819.6 1124.9 820.0 1126.7 819.7C1128.5 819.4 1130.8 817.4 1132.6 817.4C1134.4 817.4 1135.0 818.9 1136.5 819.6C1138.0 820.3 1139.3 821.3 1140.9 821.4C1142.5 821.5 1143.3 820.7 1145.0 820.4C1146.7 820.1 1148.6 819.7 1150.4 819.7C1152.2 819.7 1153.3 820.5 1155.0 820.6C1156.7 820.7 1157.6 819.9 1159.8 820.4C1162.0 820.9 1164.3 822.1 1166.9 823.3C1169.5 824.5 1172.7 826.2 1174.0 826.8" fill="none" stroke="#ff0000" stroke-width="3.7" stroke-linejoin="round" stroke-linecap="round"/>
<path d="M1076.0 827.2C1076.6 827.0 1078.2 828.0 1079.5 826.0C1080.8 824.0 1081.9 826.7 1083.0 816.2C1084.1 805.8 1084.5 790.7 1085.4 769.0C1086.3 747.3 1086.9 721.9 1087.8 698.1C1088.7 674.3 1089.4 654.6 1090.1 639.0C1090.8 623.4 1091.2 618.5 1091.6 613.0C1092.0 607.5 1092.2 609.0 1092.5 609.0C1092.8 609.0 1093.0 607.5 1093.4 613.0C1093.8 618.5 1094.2 625.6 1094.9 639.0C1095.6 652.4 1096.3 669.0 1097.2 686.3C1098.1 703.6 1098.9 722.2 1099.6 733.5C1100.3 744.8 1100.6 744.8 1101.2 747.9C1101.8 751.0 1102.3 749.6 1103.0 750.2C1103.7 750.8 1103.9 749.1 1105.0 751.2C1106.1 753.3 1107.6 757.8 1109.0 761.9C1110.4 766.0 1111.3 768.1 1112.6 773.7C1113.9 779.3 1114.9 785.7 1116.1 792.6C1117.3 799.5 1117.9 806.5 1119.2 811.5C1120.5 816.5 1120.9 817.3 1123.2 819.7C1125.5 822.1 1128.3 823.1 1131.5 824.4C1134.7 825.7 1137.5 826.1 1140.9 826.6C1144.3 827.1 1148.3 827.1 1150.0 827.2" fill="none" stroke="#00ff00" stroke-width="3.7" stroke-linejoin="round" stroke-linecap="round"/>
<rect x="683.4" y="1226.1" width="34.6" height="2.9" fill="#c40000"/>
<rect x="758" y="1226.1" width="113.0" height="2.9" fill="#c40000"/>
<rect x="1013" y="1226.1" width="35.0" height="2.9" fill="#c40000"/>
<rect x="1247" y="1226.1" width="27.1" height="2.9" fill="#c40000"/>
<rect x="276.8" y="1626.3" width="447.2" height="2.9" fill="#c40000"/>
<rect x="763.5" y="1626.3" width="104.5" height="2.9" fill="#c40000"/>
<rect x="1010.5" y="1626.3" width="39.5" height="2.9" fill="#c40000"/>
<rect x="1177" y="1626.3" width="25.4" height="2.9" fill="#c40000"/>
<rect x="934" y="425.6" width="79" height="4.3" fill="#00ff00"/>
<path d="M939.0 428.0C939.5 427.3 940.8 425.3 942.0 424.0C943.2 422.7 944.2 420.8 945.5 420.8C946.8 420.8 947.7 422.7 949.0 424.0C950.3 425.3 951.9 427.3 952.5 428.0L952.5 429.0L939.0 429.0Z" fill="#ff0000" stroke="#ff0000" stroke-width="1.6" stroke-linejoin="round"/>
<path d="M970.0 428.0C970.5 427.5 971.6 426.3 972.5 425.5C973.4 424.7 974.1 423.5 975.0 423.5C975.9 423.5 976.5 424.7 977.5 425.5C978.5 426.3 980.0 427.5 980.5 428.0L980.5 429.0L970.0 429.0Z" fill="#ff0000" stroke="#ff0000" stroke-width="1.6" stroke-linejoin="round"/>
<path d="M998.0 428.0C998.5 427.4 1000.0 425.9 1001.0 425.0C1002.0 424.1 1002.6 423.0 1003.5 423.0C1004.4 423.0 1005.0 424.1 1006.0 425.0C1007.0 425.9 1008.5 427.4 1009.0 428.0L1009.0 429.0L998.0 429.0Z" fill="#ff0000" stroke="#ff0000" stroke-width="1.6" stroke-linejoin="round"/>
<path d="M932.0 427.3C932.6 426.9 934.2 426.6 935.5 425.0C936.8 423.4 937.7 420.5 939.0 418.5C940.3 416.5 941.2 415.1 942.5 414.0C943.8 412.9 944.8 412.5 946.0 412.6C947.2 412.7 947.9 413.0 949.0 414.5C950.1 416.0 951.0 419.1 952.0 421.0C953.0 422.9 953.6 423.9 954.7 425.0C955.8 426.1 956.5 426.5 958.0 426.8C959.5 427.1 961.5 427.0 963.0 426.8C964.5 426.6 964.9 426.7 966.2 425.5C967.5 424.3 968.5 422.1 970.0 420.5C971.5 418.9 972.9 416.9 974.5 416.9C976.1 416.9 977.0 418.9 978.5 420.5C980.0 422.1 981.1 424.3 982.5 425.5C983.9 426.7 984.3 426.6 986.0 426.8C987.7 427.0 990.4 427.1 992.0 426.8C993.6 426.5 993.8 427.2 995.0 425.0C996.2 422.8 997.1 418.3 998.5 415.0C999.9 411.7 1001.3 407.1 1002.7 406.9C1004.1 406.7 1004.9 411.2 1006.0 414.0C1007.1 416.8 1007.7 419.8 1008.5 422.0C1009.3 424.2 1009.6 425.0 1010.4 426.0C1011.2 427.0 1012.5 427.1 1013.0 427.3" fill="none" stroke="#00ff00" stroke-width="3.7" stroke-linejoin="round" stroke-linecap="round"/>
<rect x="934" y="825.6" width="80" height="4.3" fill="#00ff00"/>
<path d="M939.5 828.0C940.1 827.4 941.7 825.7 943.0 824.5C944.3 823.3 945.2 821.5 946.5 821.5C947.8 821.5 948.4 823.3 950.0 824.5C951.6 825.7 954.1 827.4 955.0 828.0L955.0 829.0L939.5 829.0Z" fill="#ff0000" stroke="#ff0000" stroke-width="1.6" stroke-linejoin="round"/>
<path d="M972.5 828.0C973.1 827.5 975.0 826.2 976.0 825.5C977.0 824.8 976.9 824.2 978.0 824.3C979.1 824.4 980.5 826.1 982.0 826.2C983.5 826.3 984.7 824.8 986.0 824.8C987.3 824.8 988.1 825.4 989.0 826.0C989.9 826.6 990.6 827.6 991.0 828.0L991.0 829.0L972.5 829.0Z" fill="#ff0000" stroke="#ff0000" stroke-width="1.6" stroke-linejoin="round"/>
<path d="M997.5 828.0C998.1 827.4 999.7 825.6 1001.0 824.5C1002.3 823.4 1003.2 822.0 1004.5 822.0C1005.8 822.0 1006.7 823.4 1008.0 824.5C1009.3 825.6 1010.9 827.4 1011.5 828.0L1011.5 829.0L997.5 829.0Z" fill="#ff0000" stroke="#ff0000" stroke-width="1.6" stroke-linejoin="round"/>
<path d="M932.0 827.0C932.7 826.8 934.7 826.6 936.0 826.0C937.3 825.4 937.8 825.0 939.0 823.5C940.2 822.0 941.2 819.6 942.5 818.0C943.8 816.4 944.8 815.0 946.1 815.0C947.4 815.0 948.4 816.5 949.5 818.0C950.6 819.5 951.1 821.6 952.0 823.0C952.9 824.4 952.8 824.9 954.3 825.5C955.8 826.1 957.5 826.4 960.0 826.5C962.5 826.6 965.8 826.6 968.0 826.2C970.2 825.8 970.4 825.4 972.0 824.5C973.6 823.6 975.3 821.5 976.8 821.4C978.3 821.3 978.9 823.3 980.0 823.8C981.1 824.3 981.6 824.3 983.0 824.0C984.4 823.7 985.9 821.9 987.4 822.1C988.9 822.3 989.8 824.3 991.0 825.0C992.2 825.7 992.9 826.1 994.0 826.0C995.1 825.9 995.7 825.9 996.8 824.5C997.9 823.1 998.7 820.2 1000.0 818.5C1001.3 816.8 1002.5 815.1 1003.9 815.0C1005.3 814.9 1006.4 816.4 1007.5 818.0C1008.6 819.6 1009.1 822.0 1010.0 823.5C1010.9 825.0 1011.1 825.4 1012.2 826.0C1013.3 826.6 1015.3 826.8 1016.0 827.0" fill="none" stroke="#00ff00" stroke-width="3.7" stroke-linejoin="round" stroke-linecap="round"/>
<g stroke-width="4.3" stroke-linecap="round">
<line x1="1154" y1="78.9" x2="1258.5" y2="78.9" stroke="#000"/>
<line x1="1154" y1="132.1" x2="1258.5" y2="132.1" stroke="#ff0000"/>
<line x1="1154" y1="186" x2="1258.5" y2="186" stroke="#00ff00"/>
</g>
<g font-family="'Liberation Sans', sans-serif" font-weight="bold" font-size="44.5" fill="#000">
<text x="1267.8" y="92.6" textLength="22.2" lengthAdjust="spacingAndGlyphs">s</text>
<text x="1267" y="146">p</text>
<text x="1268" y="199">d</text>
</g>
<g font-family="'Liberation Sans', sans-serif" font-size="51" fill="#000" stroke="#000" stroke-width="0.7" text-anchor="end">
<text x="178.6" y="438.9">0</text>
<text x="178.6" y="358.8">3</text>
<text x="178.6" y="278.7">6</text>
<text x="178.6" y="198.6">9</text>
<text x="178.6" y="118.5">12</text>
<text x="178.6" y="838.9">0</text>
<text x="178.6" y="758.9">3</text>
<text x="178.6" y="678.9">6</text>
<text x="178.6" y="598.9">9</text>
<text x="178.6" y="518.9">12</text>
<text x="178.6" y="1238.9">0</text>
<text x="178.6" y="1155.4">25</text>
<text x="178.6" y="1071.9">50</text>
<text x="178.6" y="988.4">75</text>
<text x="178.6" y="904.9">100</text>
<text x="178.6" y="1640.4">0</text>
<text x="178.6" y="1556.9">25</text>
<text x="178.6" y="1473.4">50</text>
<text x="178.6" y="1389.9">75</text>
<text x="178.6" y="1306.4">100</text>
</g>
<g font-family="'Liberation Serif', serif" font-size="45" fill="#333" text-anchor="middle" letter-spacing="1.4">
<text x="275.6" y="1687.6">−50</text>
<text x="422.2" y="1687.6">−40</text>
<text x="568.8" y="1687.6">−30</text>
<text x="715.4" y="1687.6">−20</text>
<text x="862.0" y="1687.6">−10</text>
<text x="1009.6" y="1687.6">0</text>
<text x="1156.2" y="1687.6">10</text>
<text x="1302.8" y="1687.6">20</text>
</g>
<g font-family="'Liberation Sans', sans-serif" font-size="52" fill="#000" stroke="#000" stroke-width="0.7">
<text x="240.72" y="96.7" textLength="50.14" lengthAdjust="spacingAndGlyphs">Sc</text>
<text x="304.62" y="96.7" textLength="154.27" lengthAdjust="spacingAndGlyphs">before</text>
<text x="251.20" y="506.7" textLength="49.64" lengthAdjust="spacingAndGlyphs">Sc</text>
<text x="314.15" y="506.7" textLength="110.23" lengthAdjust="spacingAndGlyphs">after</text>
<text x="252.62" y="908.6" textLength="169.24" lengthAdjust="spacingAndGlyphs">surface</text>
<text x="435.12" y="908.6" textLength="155.28" lengthAdjust="spacingAndGlyphs">before</text>
<text x="262.12" y="1311.5" textLength="169.76" lengthAdjust="spacingAndGlyphs">surface</text>
<text x="443.68" y="1311.5" textLength="110.71" lengthAdjust="spacingAndGlyphs">after</text>
</g>
<text x="580.8" y="1765.7" font-family="'Liberation Sans', sans-serif" font-size="51.5" fill="#000" stroke="#000" stroke-width="1.0" textLength="261" lengthAdjust="spacingAndGlyphs">Energy(eV)</text>
<g font-family="'Liberation Sans', sans-serif" font-size="56.5" fill="#000" stroke="#000" stroke-width="0.7">
<text transform="translate(60.4 1178.5) rotate(-90)" textLength="167.2" lengthAdjust="spacingAndGlyphs">Density</text>
<text transform="translate(60.4 1001) rotate(-90)" textLength="45.5" lengthAdjust="spacingAndGlyphs">of</text>
<text transform="translate(60.4 944.5) rotate(-90)" textLength="443.3" lengthAdjust="spacingAndGlyphs">States(electrons/eV)</text>
</g>
</g>
</svg>
</body>
</html>
